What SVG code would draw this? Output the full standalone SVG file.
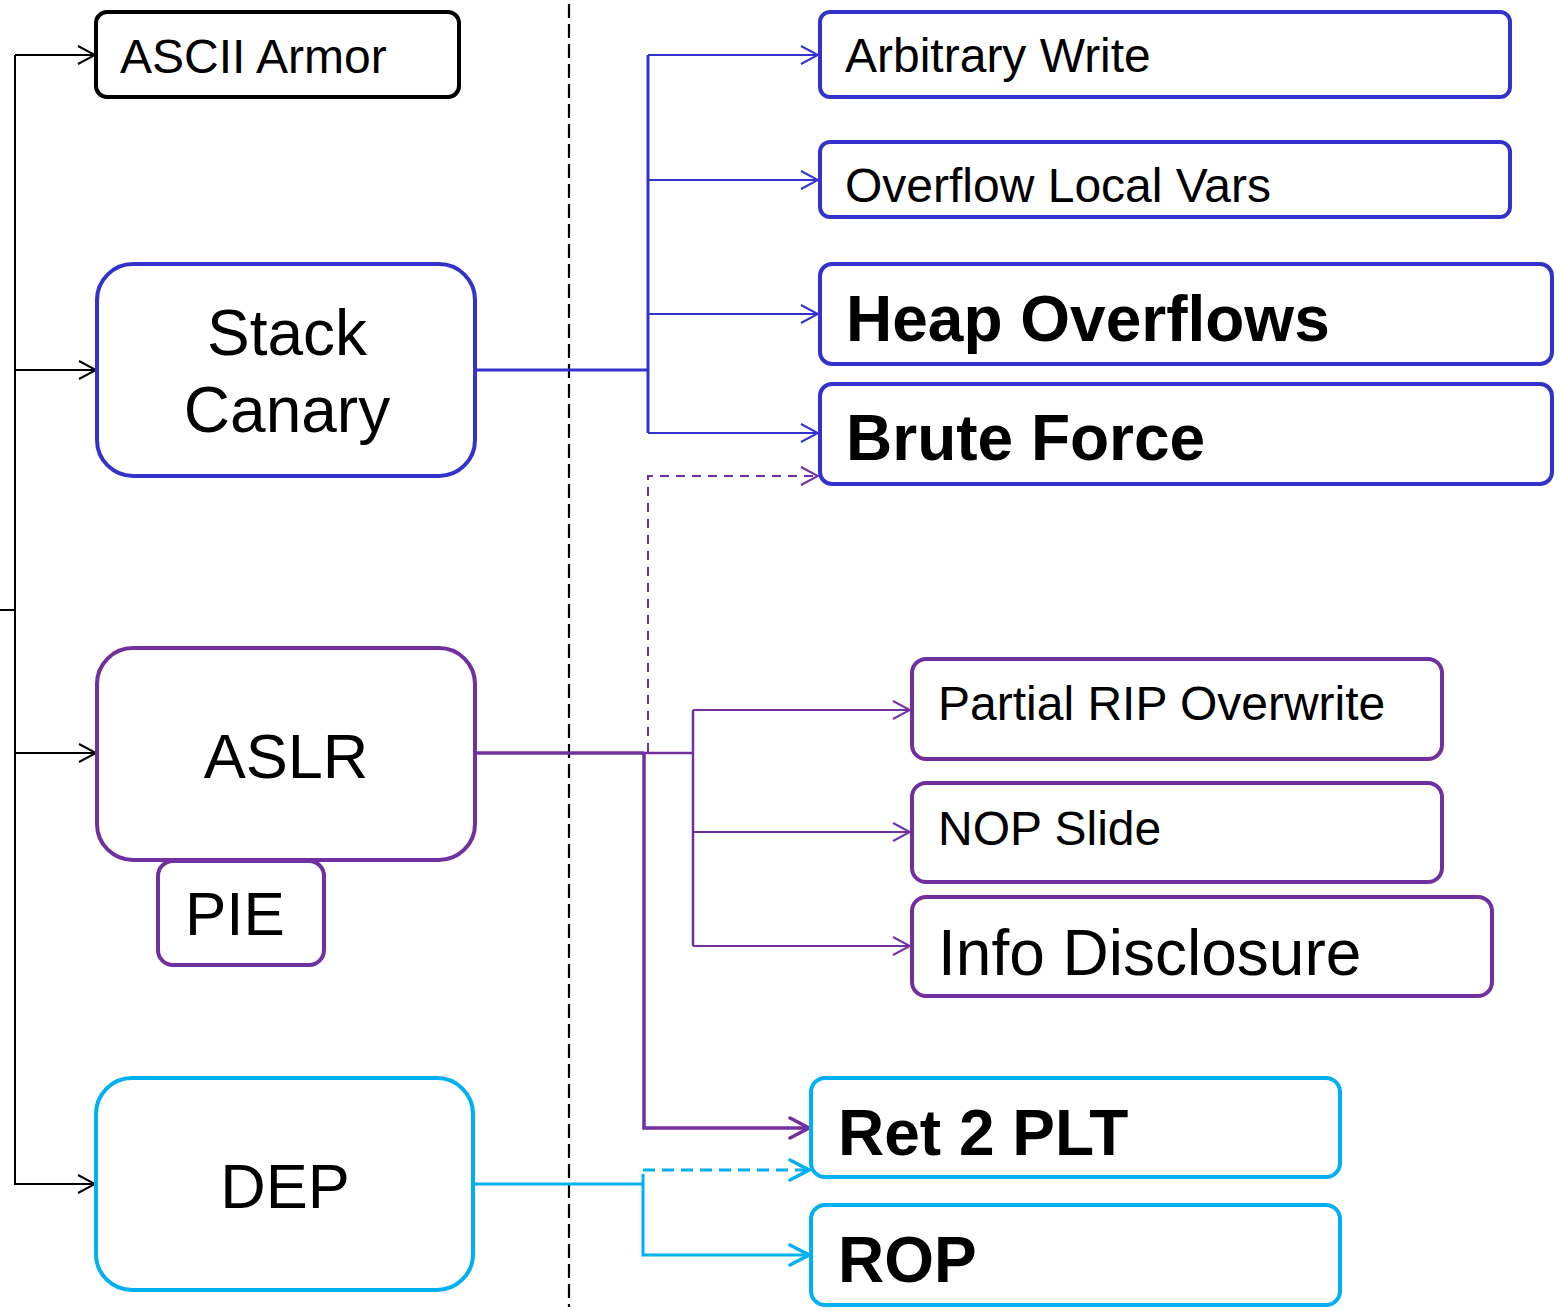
<svg xmlns="http://www.w3.org/2000/svg" width="1561" height="1311" viewBox="0 0 1561 1311">
<defs>
<style>
.t{font-family:"Liberation Sans",Arial,sans-serif;fill:#000}
.b{font-weight:bold}
.box{fill:#fff;stroke-width:4}
.k{stroke:#000}.bl{stroke:#3333CC}.pu{stroke:#7030A0}.cy{stroke:#00B0F0}
.c{fill:none}
</style>
<marker id="ak" markerWidth="20" markerHeight="20" refX="19" refY="10" orient="auto" markerUnits="userSpaceOnUse"><path d="M2,1 L19,10 L2,19" fill="none" stroke="#000" stroke-width="2"/></marker>
<marker id="ab" markerWidth="20" markerHeight="20" refX="19" refY="10" orient="auto" markerUnits="userSpaceOnUse"><path d="M2,1 L19,10 L2,19" fill="none" stroke="#3333CC" stroke-width="2"/></marker>
<marker id="ap" markerWidth="20" markerHeight="20" refX="19" refY="10" orient="auto" markerUnits="userSpaceOnUse"><path d="M2,1 L19,10 L2,19" fill="none" stroke="#7030A0" stroke-width="2"/></marker>
<marker id="ap2" markerWidth="24" markerHeight="24" refX="22" refY="12" orient="auto" markerUnits="userSpaceOnUse"><path d="M3,2 L22,12 L3,22" fill="none" stroke="#7030A0" stroke-width="3.5" stroke-linecap="round"/></marker>
<marker id="ac" markerWidth="24" markerHeight="24" refX="22" refY="12" orient="auto" markerUnits="userSpaceOnUse"><path d="M3,2 L22,12 L3,22" fill="none" stroke="#00B0F0" stroke-width="3.5" stroke-linecap="round"/></marker>
</defs>

<g id="connectors" class="c">
<line x1="569" y1="4" x2="569" y2="1307" stroke="#000" stroke-width="2.2" stroke-dasharray="14,6"/>
<path d="M15,55 V1185 M0,610 H15" stroke="#000" stroke-width="2"/>
<path d="M15,55 H95" stroke="#000" stroke-width="2" marker-end="url(#ak)"/>
<path d="M15,370 H96" stroke="#000" stroke-width="2" marker-end="url(#ak)"/>
<path d="M15,753 H96" stroke="#000" stroke-width="2" marker-end="url(#ak)"/>
<path d="M15,1184 H95" stroke="#000" stroke-width="2" marker-end="url(#ak)"/>

<path d="M477,370 H648 M648,55 V433" stroke="#3333CC" stroke-width="3"/>
<path d="M648,55 H818" stroke="#3333CC" stroke-width="2" marker-end="url(#ab)"/>
<path d="M648,180 H818" stroke="#3333CC" stroke-width="2" marker-end="url(#ab)"/>
<path d="M648,314 H818" stroke="#3333CC" stroke-width="2" marker-end="url(#ab)"/>
<path d="M648,433 H818" stroke="#3333CC" stroke-width="2" marker-end="url(#ab)"/>

<path d="M648,752 V476 H818" stroke="#7030A0" stroke-width="2" stroke-dasharray="9,7" marker-end="url(#ap)"/>
<path d="M477,753 H644" stroke="#7030A0" stroke-width="3.5"/>
<path d="M644,753 H693 M693,710 V946" stroke="#7030A0" stroke-width="2.5"/>
<path d="M693,710 H910" stroke="#7030A0" stroke-width="2" marker-end="url(#ap)"/>
<path d="M693,832 H910" stroke="#7030A0" stroke-width="2" marker-end="url(#ap)"/>
<path d="M693,946 H910" stroke="#7030A0" stroke-width="2" marker-end="url(#ap)"/>
<path d="M644,753 V1128 H809" stroke="#7030A0" stroke-width="3.5" marker-end="url(#ap2)"/>

<path d="M475,1184 H643 M643,1174 V1255 H809" stroke="#00B0F0" stroke-width="3" marker-end="url(#ac)"/>
<path d="M643,1170 H809" stroke="#00B0F0" stroke-width="3" stroke-dasharray="12,7" marker-end="url(#ac)"/>
</g>

<g id="ascii-armor"><rect class="box k" x="96" y="12" width="363" height="85" rx="11"/><text class="t" x="120" y="73" font-size="48">ASCII Armor</text></g>
<g id="stack-canary"><rect class="box bl" x="97" y="264" width="378" height="212" rx="36"/><text class="t" x="287" y="355" font-size="64" text-anchor="middle">Stack</text><text class="t" x="287" y="432" font-size="64" text-anchor="middle">Canary</text></g>
<g id="aslr"><rect class="box pu" x="97" y="648" width="378" height="212" rx="36"/><text class="t" x="286" y="778" font-size="63" text-anchor="middle">ASLR</text></g>
<g id="pie"><rect class="box pu" x="158" y="861" width="166" height="104" rx="15"/><text class="t" x="185" y="935" font-size="62">PIE</text></g>
<g id="dep"><rect class="box cy" x="96" y="1078" width="377" height="212" rx="36"/><text class="t" x="285" y="1208" font-size="63" text-anchor="middle">DEP</text></g>

<g id="arbitrary-write"><rect class="box bl" x="820" y="12" width="690" height="85" rx="10"/><text class="t" x="845" y="72" font-size="48">Arbitrary Write</text></g>
<g id="overflow-local-vars"><rect class="box bl" x="820" y="142" width="690" height="75" rx="10"/><text class="t" x="845" y="202" font-size="48">Overflow Local Vars</text></g>
<g id="heap-overflows"><rect class="box bl" x="820" y="264" width="732" height="100" rx="12"/><text class="t b" x="846" y="341" font-size="64">Heap Overflows</text></g>
<g id="brute-force"><rect class="box bl" x="820" y="384" width="732" height="100" rx="12"/><text class="t b" x="846" y="460" font-size="64">Brute Force</text></g>
<g id="partial-rip"><rect class="box pu" x="912" y="659" width="530" height="100" rx="14"/><text class="t" x="938" y="720" font-size="48">Partial RIP Overwrite</text></g>
<g id="nop-slide"><rect class="box pu" x="912" y="783" width="530" height="99" rx="14"/><text class="t" x="938" y="845" font-size="48">NOP Slide</text></g>
<g id="info-disclosure"><rect class="box pu" x="912" y="897" width="580" height="99" rx="14"/><text class="t" x="938" y="975" font-size="64">Info Disclosure</text></g>
<g id="ret2plt"><rect class="box cy" x="811" y="1078" width="529" height="99" rx="14"/><text class="t b" x="838" y="1155" font-size="64">Ret 2 PLT</text></g>
<g id="rop"><rect class="box cy" x="811" y="1205" width="529" height="100" rx="14"/><text class="t b" x="838" y="1282" font-size="64">ROP</text></g>
</svg>
